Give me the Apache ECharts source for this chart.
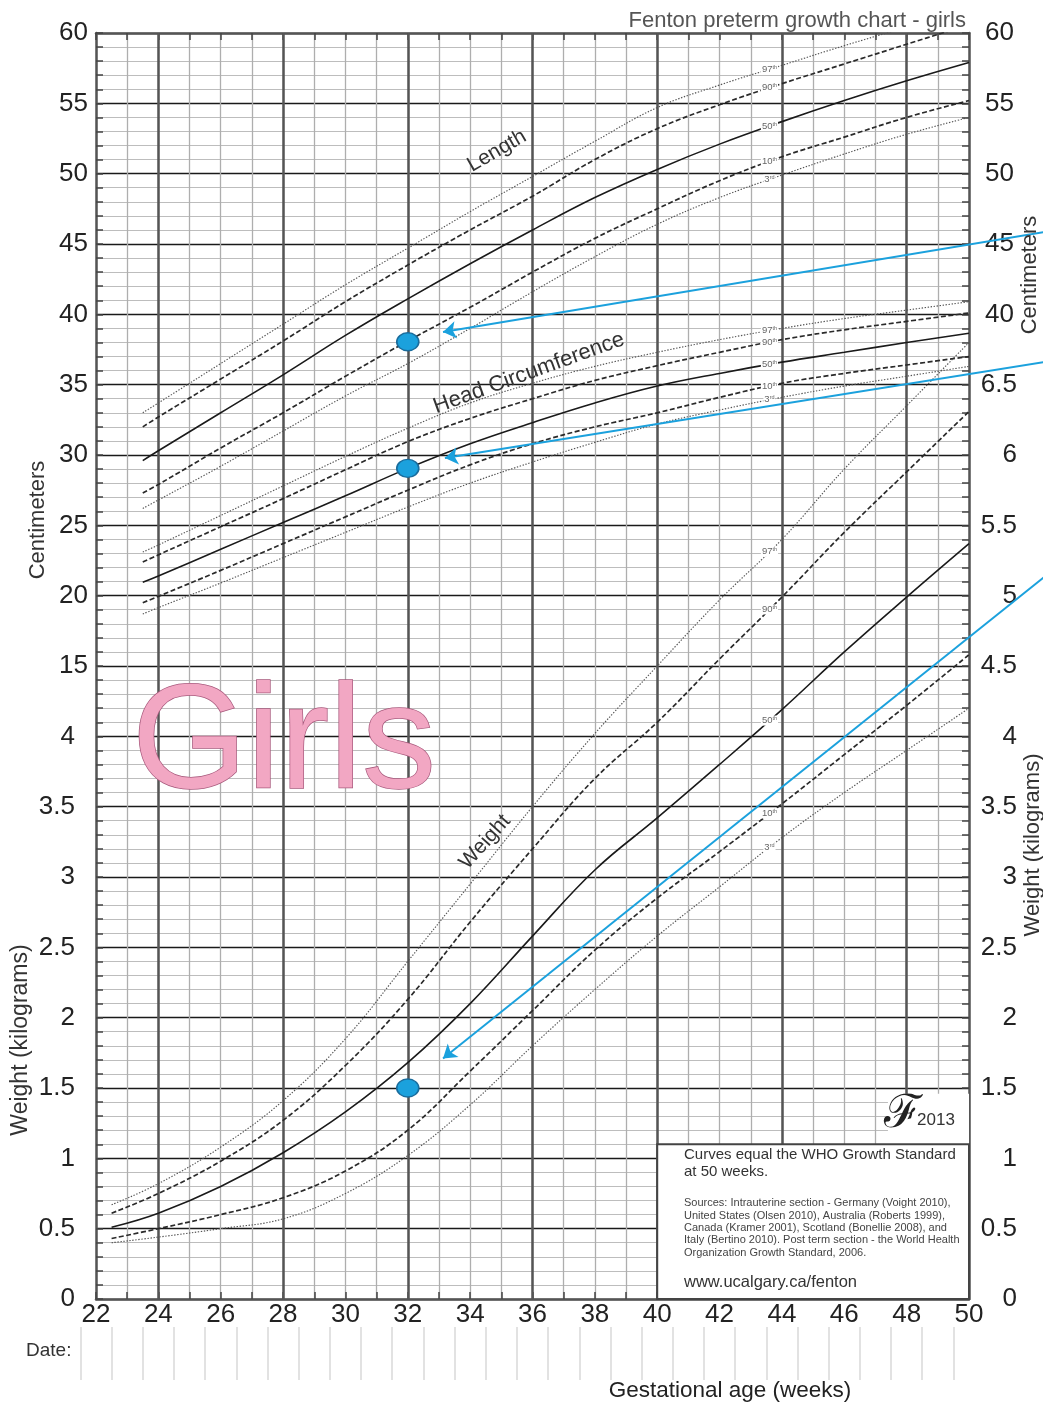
<!DOCTYPE html>
<html>
<head>
<meta charset="utf-8">
<title>Fenton preterm growth chart - girls</title>
<script src="https://cdn.jsdelivr.net/npm/echarts@6/dist/echarts.min.js"></script>
<style>
  html, body { margin: 0; padding: 0; background: #fff; }
  #chart { width: 1043px; height: 1404px; }
</style>
</head>
<body>
<div id="chart"></div>
<script>
// ---- Data: percentile curves (gestational age in weeks) ----
const weeksLH = [23.5, 24, 26, 28, 30, 32, 34, 36, 38, 40, 42, 44, 46, 48, 50];
const weeksW  = [22.5, 24, 26, 28, 30, 32, 34, 36, 38, 40, 42, 44, 46, 48, 50];

// Length (cm)
const length97 = [33.0, 33.7, 36.5, 39.3, 42.1, 44.7, 47.3, 49.8, 52.3, 54.7, 56.3, 57.7, 59.1, 60.4, 61.6];
const length90 = [32.0, 32.7, 35.4, 38.1, 40.9, 43.5, 46.0, 48.4, 51.0, 53.2, 54.9, 56.4, 57.8, 59.2, 60.6];
const length50 = [29.6, 30.3, 33.0, 35.7, 38.5, 41.1, 43.6, 46.0, 48.3, 50.3, 52.1, 53.7, 55.2, 56.6, 57.9];
const length10 = [27.3, 27.9, 30.5, 33.0, 35.6, 38.1, 40.5, 43.0, 45.4, 47.5, 49.5, 51.2, 52.6, 54.0, 55.2];
const length3  = [26.2, 26.8, 29.2, 31.7, 34.2, 36.5, 39.0, 41.6, 44.1, 46.4, 48.3, 49.9, 51.4, 52.8, 54.0];

// Head circumference (cm)
const head97 = [23.1, 23.6, 25.7, 27.8, 29.9, 31.9, 33.7, 35.1, 36.3, 37.3, 38.2, 39.0, 39.7, 40.3, 40.9];
const head90 = [22.4, 22.9, 24.9, 26.9, 28.95, 30.95, 32.6, 34.0, 35.3, 36.35, 37.3, 38.2, 38.9, 39.5, 40.1];
const head50 = [20.95, 21.4, 23.3, 25.2, 27.1, 29.05, 30.8, 32.3, 33.7, 34.9, 35.8, 36.6, 37.3, 38.0, 38.65];
const head10 = [19.5, 19.95, 21.8, 23.7, 25.6, 27.5, 29.3, 30.8, 32.0, 33.0, 34.1, 35.1, 35.8, 36.4, 37.0];
const head3  = [18.7, 19.15, 20.9, 22.7, 24.5, 26.3, 28.0, 29.5, 30.9, 32.2, 33.2, 34.1, 34.9, 35.6, 36.3];

// Weight (kg)
const weight97 = [0.67, 0.82, 1.08, 1.41, 1.85, 2.40, 2.95, 3.50, 4.02, 4.50, 4.97, 5.40, 5.90, 6.35, 6.80];
const weight90 = [0.61, 0.75, 0.98, 1.27, 1.66, 2.13, 2.68, 3.20, 3.70, 4.10, 4.55, 4.99, 5.45, 5.88, 6.31];
const weight50 = [0.51, 0.61, 0.80, 1.04, 1.33, 1.68, 2.10, 2.58, 3.05, 3.42, 3.80, 4.19, 4.60, 4.99, 5.37];
const weight10 = [0.43, 0.50, 0.60, 0.72, 0.91, 1.20, 1.62, 2.05, 2.48, 2.85, 3.18, 3.52, 3.87, 4.22, 4.58];
const weight3  = [0.40, 0.44, 0.50, 0.57, 0.75, 1.02, 1.38, 1.80, 2.20, 2.58, 2.93, 3.28, 3.60, 3.90, 4.20];

// Plotted measurements for this baby (week, value)
const babyLengthHead = [[32, 38.05], [32, 29.05]];   // cm
const babyWeight = [[32, 1.5]];                       // kg

// Pointer arrows (from, to) in (week, value)
const arrowsCm = [
  [[52.4, 45.85], [33.13, 38.74]],
  [[52.4, 36.61], [33.19, 29.79]]
];
const arrowsKg = [
  [[52.4, 5.13], [33.13, 1.71]]
];

// Axis ticks
const weekLabelsEvery = 2;
const majorWeeks = [24, 28, 32, 36, 40, 44, 48];
const labelWeek = 43.6;

// ---- Helpers ----
const FONT = '"Liberation Sans", Arial, sans-serif';
const BLUE = '#1ba1dd';

function valueAt(weeks, vals, w) {
  for (let i = 0; i < weeks.length - 1; i++) {
    if (w >= weeks[i] && w <= weeks[i + 1]) {
      const t = (w - weeks[i]) / (weeks[i + 1] - weeks[i]);
      return vals[i] + t * (vals[i + 1] - vals[i]);
    }
  }
  return vals[vals.length - 1];
}

const pctStyle = {
  97: { type: [1.4, 1.6], width: 1.15, color: '#555' },
  90: { type: [5, 2.5], width: 1.7, color: '#2a2a2a' },
  50: { type: 'solid', width: 1.6, color: '#1a1a1a' },
  10: { type: [5, 2.5], width: 1.7, color: '#2a2a2a' },
  3:  { type: [1.4, 1.6], width: 1.15, color: '#555' }
};
const pctSuffix = { 97: 'th', 90: 'th', 50: 'th', 10: 'th', 3: 'rd' };

function curve(group, weeks, vals, yIdx, pct) {
  return {
    type: 'line',
    name: group + ' ' + pct,
    xAxisIndex: 0,
    yAxisIndex: yIdx,
    data: weeks.map((w, i) => [w, vals[i]]),
    smooth: 0.4,
    showSymbol: false,
    symbol: 'none',
    silent: true,
    z: 2,
    lineStyle: pctStyle[pct],
    markPoint: {
      silent: true,
      z: 5,
      symbol: 'rect',
      symbolSize: 1,
      itemStyle: { color: 'transparent' },
      label: {
        show: true,
        position: 'inside',
        formatter: '{n|' + pct + '}{s|' + pctSuffix[pct] + '}',
        backgroundColor: '#fff',
        padding: [0, 1, 0, 1],
        rich: {
          n: { fontSize: 9.5, color: '#666', fontFamily: FONT },
          s: { fontSize: 5.5, color: '#666', fontFamily: FONT, verticalAlign: 'top', lineHeight: 7 }
        }
      },
      data: [{ coord: [labelWeek, valueAt(weeks, vals, labelWeek)] }]
    }
  };
}

const curves = [
  ...[97, 90, 50, 10, 3].map(p => curve('Length', weeksLH,
      { 97: length97, 90: length90, 50: length50, 10: length10, 3: length3 }[p], 0, p)),
  ...[97, 90, 50, 10, 3].map(p => curve('Head', weeksLH,
      { 97: head97, 90: head90, 50: head50, 10: head10, 3: head3 }[p], 0, p)),
  ...[97, 90, 50, 10, 3].map(p => curve('Weight', weeksW,
      { 97: weight97, 90: weight90, 50: weight50, 10: weight10, 3: weight3 }[p], 1, p))
];

const tickLabelStyle = { fontSize: 26, color: '#222', fontFamily: FONT };

function vText(x, y, text, size) {
  return { type: 'text', x, y, rotation: Math.PI / 2, z: 10, silent: true,
    style: { text, fontSize: size, fontFamily: FONT, fill: '#333', align: 'center', verticalAlign: 'middle' } };
}

const option = {
  animation: false,
  backgroundColor: '#fff',
  title: {
    text: 'Fenton preterm growth chart - girls',
    right: 72, top: 5,
    textStyle: { fontSize: 22, fontWeight: 'normal', color: '#555', fontFamily: FONT }
  },
  grid: [
    { left: 96, right: 74, top: 33, bottom: 105, containLabel: false, outerBoundsMode: 'none' },
    { left: 80.4, width: 873, top: 1327, height: 53, containLabel: false, outerBoundsMode: 'none' }
  ],
  xAxis: [
    {
      type: 'value', gridIndex: 0, position: 'bottom',
      min: 22, max: 50, interval: 1,
      axisLine: { show: true, onZero: false, lineStyle: { color: '#555', width: 2.5 } },
      axisTick: { show: true, inside: true, length: 7, lineStyle: { color: '#444', width: 1.5 } },
      axisLabel: {
        ...tickLabelStyle, margin: 3,
        formatter: v => (v % weekLabelsEvery === 0 ? String(v) : '')
      },
      splitLine: { show: true, lineStyle: { color: '#aeaeae', width: 1.3 } }
    },
    {
      type: 'value', gridIndex: 0, position: 'top',
      min: 22, max: 50, interval: 1,
      axisLine: { show: true, onZero: false, lineStyle: { color: '#555', width: 2.5 } },
      axisTick: { show: true, inside: true, length: 7, lineStyle: { color: '#444', width: 1.5 } },
      axisLabel: { show: false },
      splitLine: { show: false }
    },
    {
      type: 'value', gridIndex: 1,
      min: 21.5, max: 49.5, interval: 1,
      axisLine: { show: false }, axisTick: { show: false }, axisLabel: { show: false },
      splitLine: { show: true, lineStyle: { color: '#d8d8d8', width: 1.5 } }
    }
  ],
  yAxis: [
    {
      // centimetres, left
      type: 'value', gridIndex: 0, position: 'left',
      min: -30, max: 60, interval: 5,
      axisLine: { show: true, onZero: false, lineStyle: { color: '#555', width: 2.5 } },
      axisTick: { show: true, inside: true, length: 7, lineStyle: { color: '#444', width: 1.5 } },
      minorTick: { show: true, splitNumber: 5, length: 7, lineStyle: { color: '#444', width: 1.5 } },
      axisLabel: { ...tickLabelStyle, margin: 8, formatter: v => (v >= 15 ? String(v) : '') },
      splitLine: { show: true, lineStyle: { color: '#1a1a1a', width: 1.4 } },
      minorSplitLine: { show: true, lineStyle: { color: '#bdbdbd', width: 1 } }
    },
    {
      // kilograms, left
      type: 'value', gridIndex: 0, position: 'left',
      min: 0, max: 9, interval: 0.5,
      axisLine: { show: false }, axisTick: { show: false },
      axisLabel: { ...tickLabelStyle, margin: 21, formatter: v => (v <= 4 ? String(v) : '') },
      splitLine: { show: false }
    },
    {
      // centimetres, right
      type: 'value', gridIndex: 0, position: 'right',
      min: -30, max: 60, interval: 5,
      axisLine: { show: true, onZero: false, lineStyle: { color: '#555', width: 2.5 } },
      axisTick: { show: true, inside: true, length: 7, lineStyle: { color: '#444', width: 1.5 } },
      minorTick: { show: true, splitNumber: 5, length: 7, lineStyle: { color: '#444', width: 1.5 } },
      axisLabel: { ...tickLabelStyle, margin: 16, align: 'left', formatter: v => (v >= 40 ? String(v) : '') },
      splitLine: { show: false }
    },
    {
      // kilograms, right
      type: 'value', gridIndex: 0, position: 'right',
      min: 0, max: 9, interval: 0.5,
      axisLine: { show: false }, axisTick: { show: false },
      axisLabel: { ...tickLabelStyle, margin: 48, align: 'right', formatter: v => (v <= 6.5 ? String(v) : '') },
      splitLine: { show: false }
    },
    {
      type: 'value', gridIndex: 1, min: 0, max: 1,
      axisLine: { show: false }, axisTick: { show: false }, axisLabel: { show: false },
      splitLine: { show: false }
    }
  ],
  series: [
    {
      // heavy grid lines every 4 weeks
      type: 'line', xAxisIndex: 0, yAxisIndex: 1, data: [], z: 1, silent: true,
      markLine: {
        silent: true, z: 1, symbol: ['none', 'none'], label: { show: false },
        lineStyle: { color: '#555', width: 2.5, type: 'solid' },
        emphasis: { disabled: true },
        data: majorWeeks.map(w => ({ xAxis: w }))
      }
    },
    ...curves,
    {
      // information box and logo panel
      type: 'line', xAxisIndex: 0, yAxisIndex: 1, data: [], z: 6, silent: true,
      markArea: {
        silent: true, z: 6,
        emphasis: { disabled: true },
        data: [
          [{ coord: [47.4, 1.1], itemStyle: { color: '#fff', borderWidth: 0 } }, { coord: [50, 1.46] }],
          [{ coord: [40, 0], itemStyle: { color: '#fff', borderColor: '#444', borderWidth: 2 } }, { coord: [50, 1.1] }]
        ]
      }
    },
    {
      type: 'scatter', xAxisIndex: 0, yAxisIndex: 0, data: babyLengthHead, z: 8,
      symbol: 'circle', symbolSize: [22, 18],
      itemStyle: { color: BLUE, borderColor: '#1a6c9c', borderWidth: 1.5, opacity: 1 }
    },
    {
      type: 'scatter', xAxisIndex: 0, yAxisIndex: 1, data: babyWeight, z: 8,
      symbol: 'circle', symbolSize: [22, 18],
      itemStyle: { color: BLUE, borderColor: '#1a6c9c', borderWidth: 1.5, opacity: 1 }
    },
    {
      type: 'lines', coordinateSystem: 'cartesian2d', xAxisIndex: 0, yAxisIndex: 0,
      clip: false, z: 9, silent: true,
      symbol: ['none', 'arrow'], symbolSize: 13,
      lineStyle: { color: BLUE, width: 2, opacity: 1 },
      data: arrowsCm.map(c => ({ coords: c }))
    },
    {
      type: 'lines', coordinateSystem: 'cartesian2d', xAxisIndex: 0, yAxisIndex: 1,
      clip: false, z: 9, silent: true,
      symbol: ['none', 'arrow'], symbolSize: 13,
      lineStyle: { color: BLUE, width: 2, opacity: 1 },
      data: arrowsKg.map(c => ({ coords: c }))
    }
  ],
  graphic: [
    { type: 'text', x: 284, y: 747, z: 10, silent: true,
      style: { text: 'Girls', fontSize: 148, fontFamily: FONT, fill: '#f2a7c3', stroke: '#a85a7d', lineWidth: 1.5,
               align: 'center', verticalAlign: 'middle' } },
    { type: 'text', x: 497, y: 151, rotation: 30 * Math.PI / 180, z: 10, silent: true,
      style: { text: 'Length', fontSize: 21, fontFamily: FONT, fill: '#333', align: 'center', verticalAlign: 'middle' } },
    { type: 'text', x: 529, y: 373, rotation: 20 * Math.PI / 180, z: 10, silent: true,
      style: { text: 'Head Circumference', fontSize: 22, fontFamily: FONT, fill: '#333', align: 'center', verticalAlign: 'middle' } },
    { type: 'text', x: 485, y: 842, rotation: 48 * Math.PI / 180, z: 10, silent: true,
      style: { text: 'Weight', fontSize: 21, fontFamily: FONT, fill: '#333', align: 'center', verticalAlign: 'middle' } },
    vText(38, 520, 'Centimeters', 22),
    vText(21, 1040, 'Weight (kilograms)', 23),
    vText(1030, 275, 'Centimeters', 22),
    vText(1033, 845, 'Weight (kilograms)', 22),
    { type: 'text', x: 730, y: 1391, z: 10, silent: true,
      style: { text: 'Gestational age (weeks)', fontSize: 22.5, fontFamily: FONT, fill: '#222', align: 'center', verticalAlign: 'middle' } },
    { type: 'text', x: 26, y: 1351, z: 10, silent: true,
      style: { text: 'Date:', fontSize: 19, fontFamily: FONT, fill: '#333', align: 'left', verticalAlign: 'middle' } },
    // information box text
    { type: 'text', x: 684, y: 1155, z: 10, silent: true,
      style: { text: 'Curves equal the WHO Growth Standard', fontSize: 15, fontFamily: FONT, fill: '#333', align: 'left', verticalAlign: 'middle' } },
    { type: 'text', x: 684, y: 1172, z: 10, silent: true,
      style: { text: 'at 50 weeks.', fontSize: 15, fontFamily: FONT, fill: '#333', align: 'left', verticalAlign: 'middle' } },
    { type: 'text', x: 684, y: 1197, z: 10, silent: true,
      style: {
        text: 'Sources: Intrauterine section - Germany (Voight 2010),\nUnited States (Olsen 2010), Australia (Roberts 1999),\nCanada (Kramer 2001), Scotland (Bonellie 2008), and\nItaly (Bertino 2010). Post term section - the World Health\nOrganization Growth Standard, 2006.',
        fontSize: 11, lineHeight: 12.4, fontFamily: FONT, fill: '#444', align: 'left', verticalAlign: 'top' } },
    { type: 'text', x: 684, y: 1282, z: 10, silent: true,
      style: { text: 'www.ucalgary.ca/fenton', fontSize: 16.5, fontFamily: FONT, fill: '#333', align: 'left', verticalAlign: 'middle' } },
    // logo
    { type: 'text', x: 903, y: 1115, z: 10, silent: true,
      style: { text: '\u2131', fontSize: 46, fontFamily: '"DejaVu Serif", serif', fill: '#222', align: 'center', verticalAlign: 'middle' } },
    { type: 'text', x: 936, y: 1120, z: 10, silent: true,
      style: { text: '2013', fontSize: 17, fontFamily: FONT, fill: '#333', align: 'center', verticalAlign: 'middle' } }
  ]
};

const chart = echarts.init(document.getElementById('chart'), null, { renderer: 'canvas' });
chart.setOption(option);
</script>
</body>
</html>
